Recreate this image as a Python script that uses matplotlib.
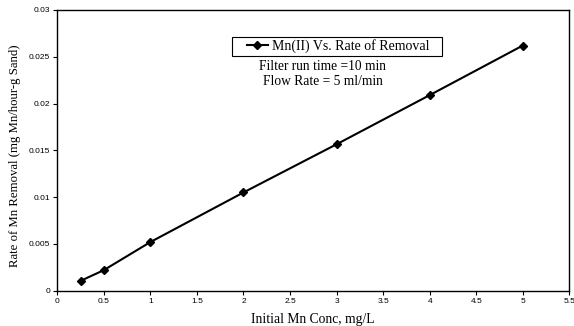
import matplotlib
matplotlib.use("Agg")
import matplotlib.pyplot as plt
from matplotlib.patches import Rectangle

conc = [0.25, 0.5, 1, 2, 3, 4, 5]
rate = [0.00105, 0.0022, 0.0052, 0.0105, 0.01565, 0.0209, 0.0262]
xticks = [0, 0.5, 1, 1.5, 2, 2.5, 3, 3.5, 4, 4.5, 5, 5.5]
yticks = [0, 0.005, 0.01, 0.015, 0.02, 0.025, 0.03]

W, H = 574, 326
fig = plt.figure(figsize=(W/100, H/100), dpi=100)
ax = fig.add_axes([57.3/W, 1-290.7/H, (569.3-57.3)/W, (290.7-10)/H])

ax.plot(conc, rate, color='black', lw=1.5, marker='D', ms=4, mfc='black', mec='black',
        label='Mn(II) Vs. Rate of Removal')
ax.set_xlim(0, 5.5)
ax.set_ylim(0, 0.03)
ax.set_xticks(xticks)
ax.set_xticklabels([f"{t:g}" for t in xticks])
ax.set_yticks(yticks)
ax.set_yticklabels([f"{t:g}" for t in yticks])
for s in ax.spines.values():
    s.set_linewidth(1.0)
ax.tick_params(direction='out', length=3, width=0.8, labelsize=6, pad=2)
for lab in ax.get_xticklabels() + ax.get_yticklabels():
    lab.set_family('Liberation Sans')

xl = ax.set_xlabel('Initial Mn Conc, mg/L', family='Liberation Serif', fontsize=9.8)
xl.set_va('center')
ax.xaxis.set_label_coords(0.5, (290.7-319.5)/280.7)
yl = ax.set_ylabel('Rate of Mn Removal (mg Mn/hour-g Sand)', family='Liberation Serif', fontsize=9.2)
yl.set_va('center')
yl.set_ha('center')
ax.yaxis.set_label_coords((15-57.3)/512, (290.7-156)/280.7)

# legend box (frame drawn separately)
fig.add_artist(Rectangle((231.7/W, 1-55.7/H), (441.7-231.7)/W, 19/H, transform=fig.transFigure,
                         fill=False, edgecolor='black', lw=0.8))
leg = fig.legend(loc='center left', bbox_to_anchor=(246.7/W, 1-46.4/H),
                 frameon=False, prop={'family': 'Liberation Serif', 'size': 10},
                 handlelength=1.55, borderpad=0, handletextpad=0.3, borderaxespad=0)

tx = (323-57.3)/512*5.5
ax.text(tx, (290.7-67)/280.7*0.03, 'Filter run time =10 min', ha='center', va='center',
        family='Liberation Serif', fontsize=9.75)
ax.text(tx, (290.7-81.7)/280.7*0.03, 'Flow Rate = 5 ml/min', ha='center', va='center',
        family='Liberation Serif', fontsize=9.75)

fig.savefig('out.png', dpi=100)
